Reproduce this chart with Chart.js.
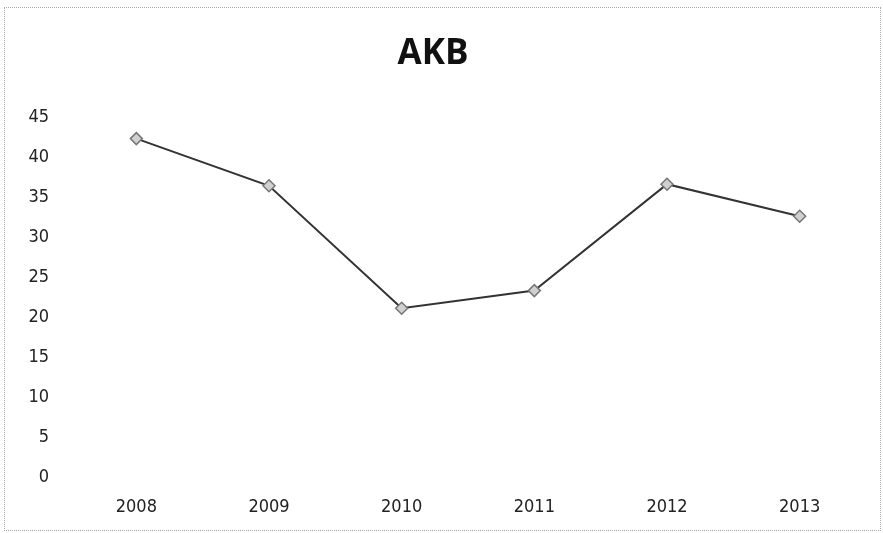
<!DOCTYPE html>
<html>
<head>
<meta charset="utf-8">
<script src="https://cdn.jsdelivr.net/npm/chart.js@4"></script>
<style>
    html, body { margin: 0; padding: 0; background: #fff; }
    #wrap { position: relative; width: 883px; height: 533px; }
    #frame { position: absolute; left: 4px; top: 7px; right: 2px; bottom: 2px; border: 1px dotted #aaa; pointer-events: none; }
</style>
</head>
<body>
<div id="wrap">
    <canvas id="akbChart" width="883" height="533"></canvas>
    <div id="frame"></div>
</div>
<script>
    const years = ['2008', '2009', '2010', '2011', '2012', '2013'];
    const akbValues = [42.3, 36.4, 21.1, 23.3, 36.6, 32.6];
    const yTicks = [0, 5, 10, 15, 20, 25, 30, 35, 40, 45];

    const tickFont = { family: '"DejaVu Sans Condensed", "Liberation Sans Narrow", sans-serif', size: 18 };

    const ctx = document.getElementById('akbChart').getContext('2d');
    const akbChart = new Chart(ctx, {
        type: 'line',
        data: {
            labels: years,
            datasets: [
                {
                    label: 'AKB',
                    data: akbValues,
                    borderColor: '#333',
                    borderWidth: 2,
                    pointStyle: 'rectRot',
                    pointRadius: 6,
                    pointBackgroundColor: '#d0d0d0',
                    pointBorderColor: '#777',
                    pointBorderWidth: 1.5,
                    tension: 0,
                    fill: false,
                }
            ]
        },
        options: {
            responsive: false,
            animation: false,
            layout: {
                padding: { top: 10, left: 0, right: 17, bottom: 15 }
            },
            plugins: {
                legend: { display: false },
                tooltip: { enabled: false },
                title: {
                    display: true,
                    text: 'AKB',
                    color: '#111',
                    font: { family: '"Open Sans", "DejaVu Sans", sans-serif', size: 35, weight: 'bold' },
                    padding: { top: 23, bottom: 42 }
                }
            },
            scales: {
                x: {
                    offset: true,
                    grid: { display: false, drawTicks: false },
                    border: { display: false },
                    ticks: { color: '#222', font: tickFont, padding: 20 },
                    afterFit: axis => { axis.height = 41; }
                },
                y: {
                    min: 0,
                    max: 45,
                    afterBuildTicks: axis => { axis.ticks = yTicks.map(v => ({ value: v })); },
                    grid: { display: false, drawTicks: false },
                    border: { display: false },
                    ticks: { color: '#222', font: tickFont, padding: 21 },
                    afterFit: axis => { axis.width = 70; }
                }
            }
        }
    });
</script>
</body>
</html>
